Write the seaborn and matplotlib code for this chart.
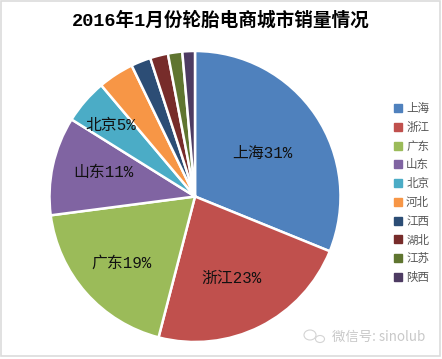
import matplotlib
matplotlib.use('Agg')
import matplotlib.pyplot as plt
from matplotlib.patches import Ellipse, Rectangle
import seaborn as sns

cities = ['上海', '浙江', '广东', '山东', '北京', '河北', '江西', '湖北', '江苏', '陕西']
sales = [31.3, 23, 19, 11, 5, 4, 2.2, 2, 1.6, 1.4]
labels = ['上海31%', '浙江23%', '广东19%', '山东11%', '北京5%', '', '', '', '', '']
colors = ['#4F81BD', '#C0504D', '#9BBB59', '#8064A2', '#4BACC6',
          '#F79646', '#2C4D75', '#772C2A', '#5F7530', '#4D3B62']

sns.set_theme(style='white')
plt.rcParams['font.family'] = ['Liberation Mono', 'Noto Sans CJK SC', 'DejaVu Sans']

W, H = 442, 359
fig = plt.figure(figsize=(W / 100, H / 100), dpi=100)

# pie centre 195,197 radius 145 in pixels
R = 145.5
ax = fig.add_axes([(195 - R) / W, 1 - (196.5 + R) / H, 2 * R / W, 2 * R / H])
wedges, _ = ax.pie(sales, colors=colors, startangle=90, counterclock=False, radius=1,
                   wedgeprops={'edgecolor': 'white', 'linewidth': 1.8})
ax.set_xlim(-1, 1)
ax.set_ylim(-1, 1)
ax.axis('off')
for w in wedges:
    w.set_clip_on(False)

# data labels, pixel positions from the reference
label_pos = [(262, 153), (232, 278), (122, 263), (103, 172), (111, 125)]
for lab, (x, y) in zip(labels, label_pos):
    fig.text(x / W, 1 - y / H, lab, fontsize=11.4, color='#111111', ha='center', va='center')

fig.text(221 / W, 1 - 21 / H, '2016年1月份轮胎电商城市销量情况', fontsize=13.4,
         fontweight='bold', color='black', ha='center', va='center')

# legend
handles = [Rectangle((0, 0), 1, 1, color=c) for c in colors]
fig.legend(handles, cities, loc='center left', bbox_to_anchor=(394 / W, 1 - 193 / H),
           frameon=False, labelcolor='#555555', handlelength=0.7, handleheight=0.7,
           handletextpad=0.35, labelspacing=0.5, borderpad=0, borderaxespad=0,
           prop={'family': ['Noto Sans CJK SC', 'DejaVu Sans'], 'size': 8.3})

# watermark
fig.text(332 / W, 1 - 337 / H, '微信号: sinolub', fontsize=9.6, color='#c8c8c8', ha='left', va='center',
         family=['Noto Sans CJK SC', 'DejaVu Sans'])
bg = fig.add_axes([0, 0, 1, 1], zorder=-1)
bg.set_xlim(0, W)
bg.set_ylim(H, 0)
bg.axis('off')
bg.add_patch(Ellipse((310, 335), 12, 10, fill=False, ec='#d4d4d4', lw=0.8))
bg.add_patch(Ellipse((320, 339), 9, 7, fill=False, ec='#d4d4d4', lw=0.8))

# outer frame
fig.add_artist(Rectangle((1 / W, 1 - 356 / H), (W - 3) / W, 355 / H, transform=fig.transFigure,
                         fill=False, ec='#dcdcdc', lw=1.2))

fig.savefig('out.png', dpi=100)
